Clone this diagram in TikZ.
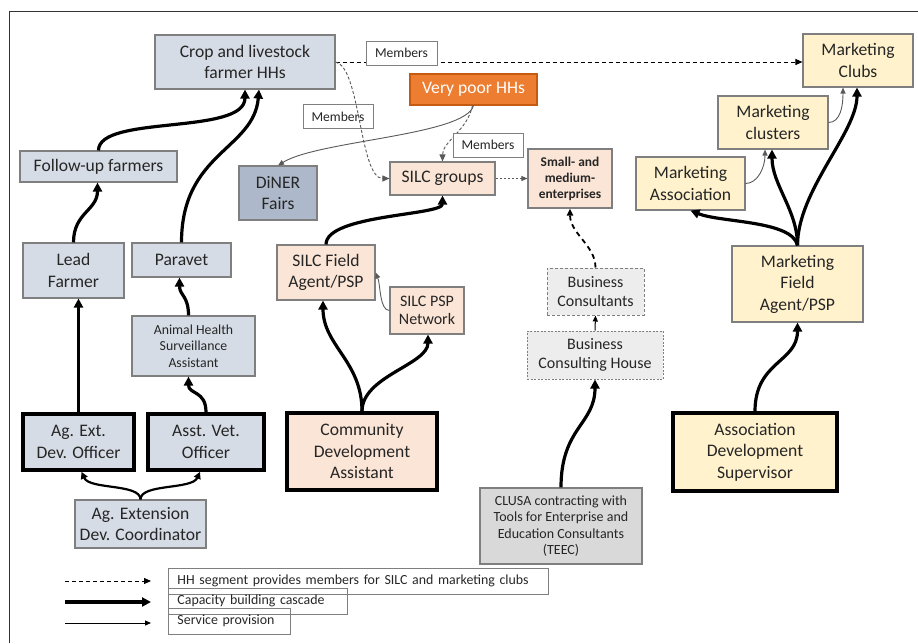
\documentclass[tikz,border=0pt]{standalone}
\usepackage{fontspec}
\setmainfont{Carlito}
\usetikzlibrary{arrows.meta}

\definecolor{bluegrey}{HTML}{D6DCE5}
\definecolor{dinerfill}{HTML}{ADB9CA}
\definecolor{peach}{HTML}{FBE5D6}
\definecolor{cream}{HTML}{FFF2CC}
\definecolor{orangefill}{HTML}{ED7D31}
\definecolor{orangeline}{HTML}{C55A11}
\definecolor{greyfill}{HTML}{D9D9D9}
\definecolor{palegrey}{HTML}{EDEDED}
\definecolor{boxline}{HTML}{7F7F7F}
\definecolor{txt}{HTML}{262626}
\definecolor{thinline}{HTML}{595959}

\newcommand\fsz[2]{\fontsize{#1}{#2}\selectfont}

\tikzset{
  base/.style={draw=boxline, line width=1.1pt, align=center, inner sep=0pt,
    text=txt, font=\fsz{17.6}{21.5}},
  bluebox/.style={base, fill=bluegrey},
  peachbox/.style={base, fill=peach},
  creambox/.style={base, fill=cream},
  heavy/.style={draw=black, line width=3.6pt},
  memlabel/.style={draw=boxline, line width=0.9pt, fill=white, inner sep=0pt,
    text=txt, font=\fsz{13.6}{15}, minimum width=70pt, minimum height=24pt},
  legbox/.style={draw=boxline, line width=0.9pt, inner sep=0pt, inner xsep=9pt,
    anchor=west, align=left, text=txt, font=\fsz{13.9}{16}, minimum height=26pt},
  cascade/.style={line width=3.2pt, black,
    -{Triangle[length=9pt,width=9pt]}},
  cascadeb/.style={line width=2.2pt, black,
    -{Triangle[length=7pt,width=7pt]}},
  service/.style={line width=0.9pt, thinline,
    -{Triangle[length=6pt,width=5pt]}},
  serviceblack/.style={line width=1pt, black,
    -{Triangle[length=6pt,width=5pt]}},
  memline/.style={line width=1pt, black, dash pattern=on 4pt off 3pt,
    -{Triangle[length=7pt,width=6pt]}},
  memgrey/.style={line width=0.9pt, thinline, dash pattern=on 3pt off 2pt,
    -{Triangle[length=7pt,width=6pt]}},
  dotgrey/.style={line width=1pt, thinline, dash pattern=on 2pt off 2pt,
    -{Triangle[length=6pt,width=5pt]}},
  memthick/.style={line width=1.8pt, black, dash pattern=on 5pt off 4pt,
    -{Triangle[length=7pt,width=6pt]}},
}

\begin{document}
\begin{tikzpicture}[x=1pt,y=-1pt]
\useasboundingbox (0,0) rectangle (918,643);

% frame
\draw[line width=1pt, black!80] (9,643) -- (9,11) -- (918,11);

% household segments
\node[bluebox, minimum width=180pt, minimum height=54pt] (crop) at (245,62)
  {Crop and livestock\\farmer HHs};
\node[base, fill=orangefill, draw=orangeline, text=white,
  minimum width=127pt, minimum height=31pt] (poor) at (473.5,89.5) {Very poor HHs};

% agriculture / livestock column
\node[bluebox, minimum width=157pt, minimum height=31pt] (follow) at (98.5,166.5) {Follow-up farmers};
\node[base, fill=dinerfill, minimum width=78pt, minimum height=54pt] (diner) at (278,193) {DiNER\\Fairs};
\node[bluebox, minimum width=101pt, minimum height=55pt] (lead) at (73.5,270.5) {Lead\\Farmer};
\node[bluebox, minimum width=99pt, minimum height=34pt] (paravet) at (181.5,260) {Paravet};
\node[bluebox, font=\fsz{13.8}{16.5}, minimum width=123pt, minimum height=60pt] (ahsa) at (193.5,346)
  {Animal Health\\Surveillance\\Assistant};
\node[bluebox, heavy, minimum width=111pt, minimum height=56pt] (agext) at (78.5,442) {Ag. Ext.\\Dev. Officer};
\node[bluebox, heavy, minimum width=116pt, minimum height=56pt] (vet) at (206,442) {Asst. Vet.\\Officer};
\node[bluebox, minimum width=131pt, minimum height=48pt] (coord) at (140.5,524)
  {Ag. Extension\\Dev. Coordinator};

% savings groups column
\node[peachbox, minimum width=105pt, minimum height=33pt] (silcg) at (442.5,178.5) {SILC groups};
\node[peachbox, font=\bfseries\fsz{13.4}{16}, minimum width=84pt, minimum height=59pt] (sme) at (570,178.5)
  {Small- and\\medium-\\enterprises};
\node[peachbox, minimum width=98pt, minimum height=55pt] (silcfa) at (326,272.5) {SILC Field\\Agent/PSP};
\node[peachbox, font=\fsz{16}{18.5}, minimum width=74pt, minimum height=47pt] (silcnet) at (427,310.5)
  {SILC PSP\\Network};
\node[peachbox, heavy, minimum width=150pt, minimum height=77pt] (cda) at (362,451.5)
  {Community\\Development\\Assistant};

% business services column
\node[base, fill=palegrey, dash pattern=on 3pt off 2pt, line width=1pt, font=\fsz{16}{18.5},
  minimum width=97pt, minimum height=47pt] (bcons) at (595.5,291.5) {Business\\Consultants};
\node[base, fill=palegrey, dash pattern=on 2pt off 1.5pt, line width=1pt, font=\fsz{16}{18.5},
  minimum width=136pt, minimum height=48pt] (bhouse) at (595,355) {Business\\Consulting House};
\node[base, fill=greyfill, font=\fsz{14}{16.3}, minimum width=162pt, minimum height=76pt] (clusa) at (561,526)
  {CLUSA contracting with\\Tools for Enterprise and\\Education Consultants\\(TEEC)};

% marketing column
\node[creambox, minimum width=110pt, minimum height=53pt] (clubs) at (858,60.5) {Marketing\\Clubs};
\node[creambox, minimum width=110pt, minimum height=53pt] (mclust) at (773,122.5) {Marketing\\clusters};
\node[creambox, minimum width=109pt, minimum height=53pt] (massoc) at (690.5,183.5) {Marketing\\Association};
\node[creambox, minimum width=131pt, minimum height=76pt] (mfa) at (797.5,284) {Marketing\\Field\\Agent/PSP};
\node[creambox, heavy, minimum width=164pt, minimum height=78pt] (ads) at (755,452)
  {Association\\Development\\Supervisor};

% membership links
\node[memlabel] (mem2) at (338,116.5) {Members};
\draw[memline] (crop.east) -- (crop.east -| clubs.west);
\node[memlabel, minimum width=71pt] (mem1) at (401.5,53) {Members};
\draw[memgrey] (crop.east) .. controls +(25,5) and +(-30,0) .. (silcg.west);
\draw[memgrey] ([xshift=-1pt]poor.south) .. controls +(-5,25) and +(0,-20) .. (silcg.north);
\node[memlabel] (mem3) at (488,145) {Members};
\draw[dotgrey] (silcg.east) -- (sme.west);
\draw[memthick] (bcons.north) .. controls +(0,-22) and +(0,25) .. (sme.south);

% capacity building cascade
\draw[cascade] (follow.north) .. controls +(0,-36) and +(0,46) .. (crop.south);
\draw[cascade] (paravet.north) .. controls +(0,-90) and +(-5,60) .. ([xshift=14pt]crop.south);
\draw[cascade] (lead.north) .. controls +(0,-30) and +(0,28) .. ([xshift=-1pt]follow.south);
\draw[cascade] (agext.north) -- (agext.north |- lead.south);
\draw[cascade] (vet.north) .. controls +(0,-22) and +(0,18) .. ([xshift=-5pt]ahsa.south);
\draw[cascade] ([xshift=-5pt]ahsa.north) .. controls +(0,-20) and +(0,18) .. ([xshift=-2pt]paravet.south);
\draw[cascadeb] (coord.north) .. controls +(0,-16) and +(8,18) .. ([xshift=3pt]agext.south);
\draw[cascadeb] (coord.north) .. controls +(0,-16) and +(-8,18) .. ([xshift=-6pt]vet.south);
\draw[cascade] (cda.north) .. controls +(0,-50) and +(0,45) .. ([xshift=-3pt]silcfa.south);
\draw[cascade] (cda.north) .. controls +(0,-35) and +(0,30) .. ([xshift=1pt]silcnet.south);
\draw[cascade] (silcfa.north) .. controls +(0,-30) and +(0,20) .. (silcg.south);
\draw[cascade] (clusa.north) .. controls +(0,-60) and +(0,45) .. (bhouse.south);
\draw[cascade] (ads.north) .. controls +(0,-50) and +(0,40) .. (mfa.south);
\draw[cascade] (mfa.north) .. controls +(-5,-25) and +(30,12) .. (massoc.south);
\draw[cascade] (mfa.north) .. controls +(0,-35) and +(0,35) .. ([xshift=-1pt]mclust.south);
\draw[cascade] (mfa.north) .. controls +(0,-55) and +(0,45) .. ([xshift=-1pt]clubs.south);

% service provision
\draw[service] (poor.south) .. controls +(-8,30) and +(40,-25) .. (diner.north);
\draw[service] (silcnet.west) .. controls +(-10,0) and +(5,12) .. (silcfa.east);
\draw[serviceblack] (bhouse.north) -- (bcons.south);
\draw[service] (massoc.east) .. controls +(12,0) and +(0,18) .. ([xshift=-8pt]mclust.south);
\draw[service] (mclust.east) .. controls +(12,0) and +(0,18) .. ([xshift=-15pt]clubs.south);

% legend
\coordinate (ka) at (65,581); \coordinate (kb) at (151,581);
\coordinate (kc) at (65,602); \coordinate (kd) at (151,602);
\coordinate (ke) at (65,623); \coordinate (kf) at (151,623);
\draw[memline] (ka) -- (kb);
\draw[cascade] (kc) -- (kd);
\draw[serviceblack] (ke) -- (kf);
\node[legbox, text width=362pt] (leg1) at (168,581) {HH segment provides members for SILC and marketing clubs};
\node[legbox, text width=161pt] (leg2) at (168,601) {Capacity building cascade};
\node[legbox, text width=104pt] (leg3) at (168,621) {Service provision};
\end{tikzpicture}
\end{document}
